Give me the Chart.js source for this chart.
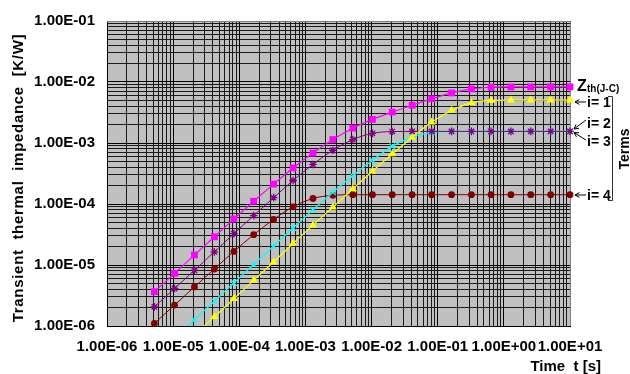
<!DOCTYPE html>
<html>
<head>
<meta charset="utf-8">
<script src="https://cdn.jsdelivr.net/npm/chart.js@4/dist/chart.umd.min.js"></script>
<style>
  html, body { margin: 0; padding: 0; background: #fff; }
  canvas { display: block; }
</style>
</head>
<body>
<canvas id="zth-chart" width="630" height="374"></canvas>
<script>
// time points [s]
const times = [5.2e-6, 1.05e-5, 2.1e-5, 4.2e-5, 8.3e-5, 1.65e-4, 3.3e-4, 6.5e-4, 1.3e-3, 2.6e-3, 5.2e-3,
  1.03e-2, 2.05e-2, 4.1e-2, 8.1e-2, 0.162, 0.323, 0.64, 1.28, 2.55, 5.1, 10];

// impedance values [K/W]
const zthJC = [3.65e-6, 7.3e-6, 1.46e-5, 2.9e-5, 5.7e-5, 1.11e-4, 2.12e-4, 3.9e-4, 6.85e-4, 1.14e-3, 1.75e-3,
  2.44e-3, 3.21e-3, 4.15e-3, 5.3e-3, 6.62e-3, 7.7e-3, 8.2e-3, 8.3e-3, 8.32e-3, 8.32e-3, 8.32e-3];
const term1 = [1.8e-7, 3.5e-7, 7.1e-7, 1.42e-6, 2.8e-6, 5.6e-6, 1.12e-5, 2.25e-5, 4.5e-5, 8.9e-5, 1.77e-4,
  3.45e-4, 6.6e-4, 1.23e-3, 2.2e-3, 3.42e-3, 4.56e-3, 5.0e-3, 5.05e-3, 5.05e-3, 5.05e-3, 5.05e-3];
const term2 = [3.2e-7, 6.4e-7, 1.27e-6, 2.55e-6, 5.1e-6, 1.02e-5, 2.04e-5, 4.05e-5, 8.0e-5, 1.56e-4, 2.9e-4,
  5.2e-4, 8.8e-4, 1.25e-3, 1.49e-3, 1.55e-3, 1.55e-3, 1.55e-3, 1.55e-3, 1.55e-3, 1.55e-3, 1.55e-3];
const term3 = [2.06e-6, 4.12e-6, 8.2e-6, 1.64e-5, 3.27e-5, 6.47e-5, 1.27e-4, 2.43e-4, 4.45e-4, 7.6e-4, 1.14e-3,
  1.44e-3, 1.54e-3, 1.55e-3, 1.55e-3, 1.55e-3, 1.55e-3, 1.55e-3, 1.55e-3, 1.55e-3, 1.55e-3, 1.55e-3];
const term4 = [1.1e-6, 2.2e-6, 4.37e-6, 8.6e-6, 1.67e-5, 3.14e-5, 5.59e-5, 8.98e-5, 1.23e-4, 1.39e-4, 1.42e-4,
  1.42e-4, 1.42e-4, 1.42e-4, 1.42e-4, 1.42e-4, 1.42e-4, 1.42e-4, 1.42e-4, 1.42e-4, 1.42e-4, 1.42e-4];

// axis decades and their labels
const xDecades = [1e-6, 1e-5, 1e-4, 1e-3, 1e-2, 1e-1, 1, 10];
const xTickLabels = ['1.00E-06', '1.00E-05', '1.00E-04', '1.00E-03', '1.00E-02', '1.00E-01', '1.00E+00', '1.00E+01'];
const yDecades = [1e-6, 1e-5, 1e-4, 1e-3, 1e-2, 1e-1];
const yTickLabels = ['1.00E-06', '1.00E-05', '1.00E-04', '1.00E-03', '1.00E-02', '1.00E-01'];

const FONT = '"Liberation Sans", Arial, sans-serif';

function pts(values) {
  return values.map((v, i) => ({ x: times[i], y: v }));
}

// 1..9 x 10^n ticks so every grid line is there
function logTicks(decades) {
  const out = [];
  for (let d = 0; d < decades.length; d++) {
    out.push({ value: decades[d], major: true });
    if (d < decades.length - 1) {
      for (let m = 2; m <= 9; m++) out.push({ value: +(decades[d] * m).toPrecision(3), major: false });
    }
  }
  return out;
}

function labelFor(value, decades, labels) {
  const i = decades.findIndex(d => Math.abs(value / d - 1) < 1e-6);
  return i < 0 ? '' : labels[i];
}

const backdrop = {
  id: 'backdrop',
  beforeDraw(chart) {
    const { ctx, chartArea: a } = chart;
    ctx.save();
    ctx.fillStyle = '#c0c0c0';
    ctx.fillRect(a.left, a.top, a.right - a.left, a.bottom - a.top);
    ctx.restore();
  },
  beforeDatasetsDraw(chart) {
    const { ctx, chartArea: a } = chart;
    ctx.save();
    ctx.strokeStyle = '#808080';
    ctx.lineWidth = 1;
    ctx.beginPath();
    ctx.moveTo(a.left, a.top + 0.5);
    ctx.lineTo(a.right + 0.5, a.top + 0.5);
    ctx.lineTo(a.right + 0.5, a.bottom);
    ctx.stroke();
    ctx.restore();
  }
};

function arrow(ctx, x1, y1, x2, y2) {
  const ang = Math.atan2(y2 - y1, x2 - x1);
  ctx.beginPath();
  ctx.moveTo(x1, y1);
  ctx.lineTo(x2, y2);
  ctx.moveTo(x2 - 5 * Math.cos(ang - 0.5), y2 - 5 * Math.sin(ang - 0.5));
  ctx.lineTo(x2, y2);
  ctx.lineTo(x2 - 5 * Math.cos(ang + 0.5), y2 - 5 * Math.sin(ang + 0.5));
  ctx.stroke();
}

// axis titles and the term labels on the right
const notes = {
  id: 'notes',
  afterDraw(chart) {
    const { ctx } = chart;
    ctx.save();
    ctx.fillStyle = '#000';
    ctx.strokeStyle = '#000';
    ctx.lineWidth = 1;
    ctx.textBaseline = 'alphabetic';

    // y title
    ctx.save();
    ctx.translate(23, 178);
    ctx.rotate(-Math.PI / 2);
    ctx.textAlign = 'center';
    ctx.font = 'bold 15px ' + FONT;
    ctx.letterSpacing = '0.7px';
    ctx.fillText('Transient  thermal  impedance  [K/W]', 0, 0);
    ctx.restore();

    // x title
    ctx.textAlign = 'right';
    ctx.font = 'bold 15px ' + FONT;
    ctx.fillText('Time  t [s]', 601, 371);

    // Zth label
    ctx.textAlign = 'left';
    ctx.font = 'bold 16px ' + FONT;
    ctx.fillText('Z', 577, 91);
    ctx.font = 'bold 10px ' + FONT;
    ctx.fillText('th(J-C)', 587, 92);

    ctx.font = 'bold 14px ' + FONT;
    ctx.fillText('i= 1', 587, 107);
    ctx.fillText('i= 2', 587, 128);
    ctx.fillText('i= 3', 587, 146);
    ctx.fillText('i= 4', 587, 200);

    arrow(ctx, 586, 102, 575, 102);
    arrow(ctx, 586, 120, 574, 129);
    arrow(ctx, 586, 140, 574, 132.5);
    arrow(ctx, 586, 195, 575, 195);

    // bracket
    ctx.strokeStyle = '#333';
    ctx.beginPath();
    ctx.moveTo(608, 96.5);
    ctx.lineTo(612.5, 96.5);
    ctx.lineTo(612.5, 200.5);
    ctx.lineTo(608, 200.5);
    ctx.stroke();

    ctx.save();
    ctx.translate(629, 149);
    ctx.rotate(-Math.PI / 2);
    ctx.textAlign = 'center';
    ctx.font = 'bold 14px ' + FONT;
    ctx.fillText('Terms', 0, 0);
    ctx.restore();

    ctx.restore();
  }
};

const gridColor = c => (c.tick && c.tick.major ? '#000' : '#1a1a1a');

const ctx = document.getElementById('zth-chart');
const chart = new Chart(ctx, {
  type: 'line',
  data: {
    datasets: [
      {
        label: 'Zth(J-C)', data: pts(zthJC),
        borderColor: '#ff00ff', backgroundColor: '#ff00ff', borderWidth: 1.2,
        pointStyle: 'rect', pointRadius: 4.8, pointBorderWidth: 0,
        clip: { left: 10, top: 10, right: 10, bottom: 3 }
      },
      {
        label: 'i= 1', data: pts(term1),
        borderColor: '#ffff00', backgroundColor: '#ffff00', borderWidth: 1.2,
        pointStyle: 'triangle', pointRadius: 4.6, pointBorderWidth: 0,
        clip: { left: 10, top: 10, right: 10, bottom: 0 }
      },
      {
        label: 'i= 3', data: pts(term3),
        borderColor: '#800080', backgroundColor: '#800080', borderWidth: 1,
        pointStyle: 'star', pointRadius: 3.8, pointBorderWidth: 1.3,
        clip: { left: 10, top: 10, right: 10, bottom: 3 }
      },
      {
        label: 'i= 2', data: pts(term2),
        borderColor: '#00ffff', backgroundColor: '#00ffff', borderWidth: 1.2,
        pointStyle: 'crossRot', pointRadius: 4, pointBorderWidth: 1.3,
        clip: { left: 10, top: 10, right: 10, bottom: 0 }
      },
      {
        label: 'i= 4', data: pts(term4),
        borderColor: '#800000', backgroundColor: '#800000', borderWidth: 1,
        pointStyle: 'circle', pointRadius: 3.4, pointBorderWidth: 0,
        clip: { left: 10, top: 10, right: 10, bottom: 3 }
      }
    ]
  },
  options: {
    responsive: false,
    animation: false,
    cubicInterpolationMode: 'monotone',
    layout: { padding: { top: 20, right: 60, left: 0, bottom: 0 } },
    plugins: {
      legend: { display: false },
      tooltip: { enabled: false }
    },
    scales: {
      x: {
        type: 'logarithmic',
        min: 1e-6, max: 10,
        afterBuildTicks: s => { s.ticks = logTicks(xDecades); },
        afterFit: s => { s.height = 48; },
        grid: { color: gridColor, lineWidth: 1, drawTicks: false },
        border: { display: true, color: '#000', width: 1 },
        ticks: {
          autoSkip: false, maxRotation: 0, minRotation: 0, padding: 12,
          color: '#000', font: { family: FONT, size: 15, weight: 'bold' },
          callback: v => labelFor(v, xDecades, xTickLabels)
        }
      },
      y: {
        type: 'logarithmic',
        min: 1e-6, max: 1e-1,
        afterBuildTicks: s => { s.ticks = logTicks(yDecades); },
        afterFit: s => { s.width = 107; },
        grid: { color: gridColor, lineWidth: 1, drawTicks: false },
        border: { display: true, color: '#000', width: 1 },
        ticks: {
          autoSkip: false, padding: 12,
          color: '#000', font: { family: FONT, size: 15, weight: 'bold' },
          callback: v => labelFor(v, yDecades, yTickLabels)
        }
      }
    }
  },
  plugins: [backdrop, notes]
});
</script>
</body>
</html>
